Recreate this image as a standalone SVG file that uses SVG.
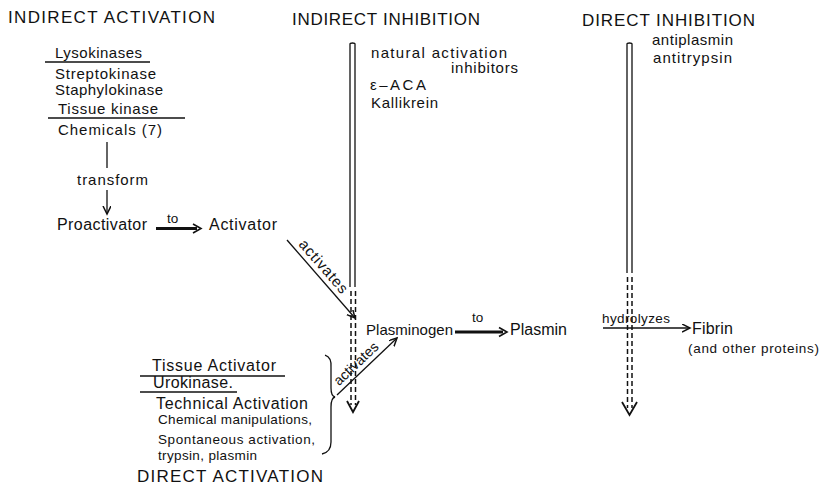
<svg xmlns="http://www.w3.org/2000/svg" width="820" height="487" viewBox="0 0 820 487">
<style>
text{font-family:"Liberation Sans",Arial,sans-serif;fill:#111}
.t{font-size:17px}
.m{font-size:16px}
.s{font-size:15px}
.x{font-size:13.5px}
.ln{stroke:#111;stroke-width:1.3;fill:none}
.ul{stroke:#111;stroke-width:1.4}
.thick{stroke:#111;stroke-width:3;fill:none}
.dl{stroke:#111;stroke-width:1.3;fill:none}
.dash{stroke:#111;stroke-width:1.5;stroke-dasharray:5 3;fill:none}
</style>
<defs>
<marker id="ah" markerWidth="10" markerHeight="10" refX="8" refY="4" orient="auto" markerUnits="userSpaceOnUse">
<path d="M0,0 L8,4 L0,8" fill="none" stroke="#111" stroke-width="1.5"/>
</marker>
</defs>
<rect width="820" height="487" fill="#fff"/>

<g id="title-indirect-activation"><text class="t" x="8" y="23" textLength="207" lengthAdjust="spacing">INDIRECT  ACTIVATION</text></g>
<g id="title-indirect-inhibition"><text class="t" x="292" y="25" textLength="188" lengthAdjust="spacing">INDIRECT  INHIBITION</text></g>
<g id="title-direct-inhibition"><text class="t" x="582" y="26" textLength="173" lengthAdjust="spacing">DIRECT  INHIBITION</text></g>
<g id="title-direct-activation"><text class="t" x="137" y="482" textLength="186" lengthAdjust="spacing">DIRECT  ACTIVATION</text></g>

<g id="lysokinases">
<text class="s" x="55" y="58" textLength="87" lengthAdjust="spacing">Lysokinases</text>
<line class="ul" x1="45" y1="62" x2="150" y2="62"/>
<text class="s" x="55" y="79" textLength="101" lengthAdjust="spacing">Streptokinase</text>
<text class="s" x="55" y="95" textLength="108" lengthAdjust="spacing">Staphylokinase</text>
<text class="s" x="58" y="114" textLength="100" lengthAdjust="spacing">Tissue  kinase</text>
<line class="ul" x1="48" y1="118" x2="185" y2="118"/>
<text class="s" x="58" y="135" textLength="104" lengthAdjust="spacing">Chemicals (7)</text>
</g>

<g id="proactivator"><text class="m" x="57" y="230" textLength="90" lengthAdjust="spacing">Proactivator</text></g>
<g id="activator"><text class="m" x="209" y="230" textLength="68" lengthAdjust="spacing">Activator</text></g>

<g id="indirect-inhibitors">
<text class="s" x="371" y="58" textLength="136" lengthAdjust="spacing">natural  activation</text>
<text class="s" x="451" y="73" textLength="67" lengthAdjust="spacing">inhibitors</text>
<text class="s" x="370" y="90" textLength="56" lengthAdjust="spacing">ε–ACA</text>
<text class="s" x="371" y="108" textLength="67" lengthAdjust="spacing">Kallikrein</text>
</g>

<g id="direct-inhibitors">
<text class="s" x="652" y="45" textLength="81" lengthAdjust="spacing">antiplasmin</text>
<text class="s" x="653" y="63" textLength="79" lengthAdjust="spacing">antitrypsin</text>
</g>

<g id="plasminogen"><text class="s" x="366" y="335" textLength="87" lengthAdjust="spacing">Plasminogen</text></g>
<g id="plasmin"><text class="m" x="510" y="335" textLength="57" lengthAdjust="spacing">Plasmin</text></g>
<g id="fibrin">
<text class="m" x="692" y="334" textLength="41" lengthAdjust="spacing">Fibrin</text>
<text class="x" x="688" y="353" textLength="131" lengthAdjust="spacing">(and other proteins)</text>
</g>

<g id="direct-activators">
<text class="m" x="152" y="371" textLength="124" lengthAdjust="spacing">Tissue  Activator</text>
<line class="ul" x1="140" y1="376" x2="285" y2="376"/>
<text class="m" x="153" y="388" textLength="80" lengthAdjust="spacing">Urokinase.</text>
<line class="ul" x1="140" y1="392" x2="237" y2="392"/>
<text class="m" x="156" y="409" textLength="152" lengthAdjust="spacing">Technical  Activation</text>
<text class="x" x="158" y="424" textLength="154" lengthAdjust="spacing">Chemical  manipulations,</text>
<text class="x" x="158" y="444" textLength="157" lengthAdjust="spacing">Spontaneous  activation,</text>
<text class="x" x="158" y="460" textLength="99" lengthAdjust="spacing">trypsin, plasmin</text>
<path class="ln" d="M325,355 Q332,357 331,368 L331,388 Q331,396 335,397 Q331,398 331,407 L331,442 Q331,452 322,454"/>
</g>

<g id="connectors">
<line class="ln" x1="107" y1="142" x2="107" y2="168"/>
<text class="s" x="77" y="185" textLength="71" lengthAdjust="spacing">transform</text>
<line class="ln" x1="107" y1="190" x2="107" y2="214" marker-end="url(#ah)"/>
<text class="x" x="167" y="223">to</text>
<line class="thick" x1="156" y1="228.5" x2="197" y2="228.5"/>
<path d="M193,224 L201,228.5 L193,233" fill="none" stroke="#111" stroke-width="1.6"/>
<line class="ln" x1="287" y1="240" x2="355" y2="318" marker-end="url(#ah)"/>
<text class="s" transform="translate(316,273) rotate(48.9)" x="0" y="-5" text-anchor="middle" textLength="66" lengthAdjust="spacing">activates</text>
<text class="x" x="472" y="322">to</text>
<line class="thick" x1="455" y1="332" x2="503" y2="332"/>
<path d="M499,327.5 L507,332 L499,336.5" fill="none" stroke="#111" stroke-width="1.6"/>
<text class="x" x="602" y="323" textLength="68" lengthAdjust="spacing">hydrolyzes</text>
<line class="ln" x1="603" y1="328" x2="690" y2="328" marker-end="url(#ah)"/>
<line class="ln" x1="337" y1="395" x2="397" y2="338" marker-end="url(#ah)"/>
<text style="font-size:14px" transform="translate(362,370) rotate(-43.5)" x="0" y="-4" text-anchor="middle" textLength="56" lengthAdjust="spacing">activates</text>
<path class="dl" d="M350,287 L350,44 Q350,43 352.5,43 Q355,43 355,44 L355,287"/>
<line class="dash" x1="351" y1="291" x2="351" y2="405"/>
<line class="dash" x1="355.5" y1="291" x2="355.5" y2="405"/>
<path d="M347,401 L353,412 L359,401" fill="none" stroke="#111" stroke-width="1.8"/>
<path class="dl" d="M627,273 L627,44 Q627,43 629.5,43 Q632,43 632,44 L632,273"/>
<line class="dash" x1="627.5" y1="277" x2="627.5" y2="408"/>
<line class="dash" x1="632" y1="277" x2="632" y2="408"/>
<path d="M622,402 L629.5,415 L637,402" fill="none" stroke="#111" stroke-width="1.8"/>
</g>
</svg>
